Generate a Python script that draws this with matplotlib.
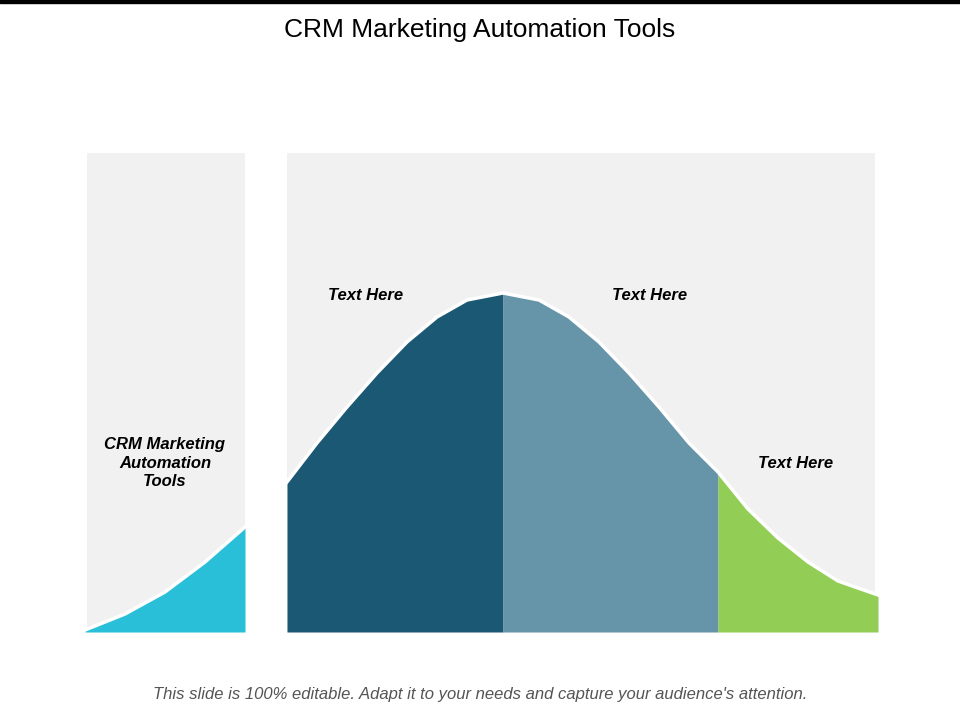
import matplotlib
matplotlib.use("Agg")
import matplotlib.pyplot as plt
import numpy as np

title = "CRM Marketing Automation Tools"
footer = "This slide is 100% editable. Adapt it to your needs and capture your audience's attention."
side_label = "CRM Marketing\nAutomation\nTools"
labels = ["Text Here", "Text Here", "Text Here"]

# bell curve: x position (px) and height above baseline (px)
curve_x = [287, 317, 347, 377, 407, 437, 467, 503, 539, 569, 599, 629, 659, 689, 718, 748, 778, 808, 838, 878]
curve_h = [150, 189, 225, 259, 290, 315, 332, 339, 332, 315, 290, 259, 225, 189, 160, 123, 94, 70, 51, 37]
# tail in the left panel
tail_x = [85, 125, 165, 205, 245]
tail_h = [2, 18, 40, 70, 105]
segment_edges = [287, 503, 718, 878]
segment_colors = ["#1a5874", "#6694a9", "#92cd55"]
tail_color = "#29bfd9"

base = 632
fig = plt.figure(figsize=(9.6, 7.2), dpi=100)
ax = fig.add_axes([0, 0, 1, 1])
ax.set_xlim(0, 960); ax.set_ylim(720, 0); ax.axis("off")

ax.fill_between([0, 960], 0, 3, color="black")
ax.text(480, 30, title, ha="center", va="center", fontsize=19, family="Liberation Sans")

ax.fill_between([87, 245], 153, base, color="#f1f1f1", lw=0)
ax.fill_between([287, 875], 153, base, color="#f1f1f1", lw=0)

cx = np.array(curve_x); cy = base - np.array(curve_h)
for i, c in enumerate(segment_colors):
    m = (cx >= segment_edges[i]) & (cx <= segment_edges[i + 1])
    ax.fill_between(cx[m], cy[m], base, color=c, lw=0)
ax.plot(cx, cy, color="white", lw=2.5)
tx = np.array(tail_x); ty = base - np.array(tail_h)
ax.fill_between(tx, ty, base, color=tail_color, lw=0)
ax.plot(tx, ty, color="white", lw=2.5)

font = dict(fontsize=12, fontweight="bold", style="italic", family="Liberation Sans", ha="center", va="center")
for (x, y), t in zip([(366, 295), (650, 295), (796, 464)], labels):
    ax.text(x, y, t, **font)
ax.text(165, 463, side_label, linespacing=1.3, **font)

ax.text(480, 695, footer, ha="center", va="center", fontsize=12, style="italic",
        family="Liberation Sans", color="#555555")
fig.savefig("out.png", dpi=100)
